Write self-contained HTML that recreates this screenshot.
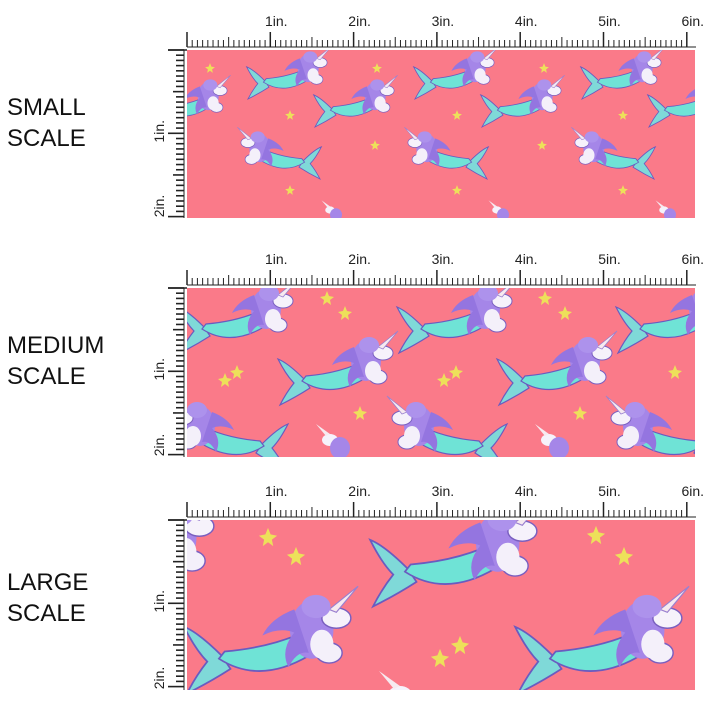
<!DOCTYPE html>
<html><head><meta charset="utf-8"><style>
body{margin:0;background:#fff;width:720px;height:720px;overflow:hidden;font-family:"Liberation Sans",sans-serif}
.lab{position:absolute;left:7px;font-size:24px;line-height:31px;color:#111}
</style></head><body>
<div class="lab" style="top:92px">SMALL<br>SCALE</div>
<div class="lab" style="top:330px">MEDIUM<br>SCALE</div>
<div class="lab" style="top:567px">LARGE<br>SCALE</div>
<svg id="s" width="720" height="720" style="position:absolute;left:0;top:0">
<defs>
<g id="c">
<path d="M24,44 Q8,28 -2,24 Q6,40 14,48 Q6,58 0,70 Q16,62 30,53 Z" fill="#7fd9d8" stroke="#6a5bc0" stroke-width="1.2"/>
<path d="M22,46 Q50,64 84,44 L88,24 Q62,38 26,41 Z" fill="#6fe3d6" stroke="#6a5bc0" stroke-width="1.2"/>
<ellipse cx="98" cy="42" rx="9" ry="7" fill="#f4f0fa" stroke="#7a5fc0" stroke-width="1"/>
<ellipse cx="86" cy="26" rx="15" ry="20" fill="#a586e8"/>
<path d="M74,12 Q58,18 52,30 Q64,24 74,28 Q64,40 70,52 Q76,40 84,42 Z" fill="#9475e0"/>
<ellipse cx="93" cy="36" rx="8" ry="10" fill="#f4f0fa"/>
<ellipse cx="103" cy="18" rx="10" ry="7" fill="#f6f2fb" stroke="#7a5fc0" stroke-width="1"/>
<path d="M98,12 L118,-4 L103,14 Z" fill="#f6eaf0" stroke="#9a80d0" stroke-width="0.8"/>
<ellipse cx="89" cy="10" rx="10" ry="8" fill="#ad92ec"/>
</g>
<g id="h">
<ellipse cx="0" cy="0" rx="8" ry="6" fill="#f6f2fb"/>
<path d="M-4,-4 L-14,-16 L0,-6Z" fill="#f6eaf0"/>
<ellipse cx="10" cy="8" rx="10" ry="11" fill="#a586e8"/>
</g>
<path id="st" d="M0,-7 L2,-2 L7,-1 L3,2 L4,7 L0,4 L-4,7 L-3,2 L-7,-1 L-2,-2Z" fill="#ede05a"/>
<clipPath id="k1"><rect x="187" y="50" width="508" height="168"/></clipPath>
<clipPath id="k2"><rect x="187" y="288" width="508" height="169"/></clipPath>
<clipPath id="k3"><rect x="187" y="520" width="508" height="170"/></clipPath>
</defs>
<g clip-path="url(#k1)"><rect x="187" y="50" width="508" height="168" fill="#fa7a89"/></g>
<g clip-path="url(#k2)"><rect x="187" y="288" width="508" height="169" fill="#fa7a89"/></g>
<g clip-path="url(#k3)"><rect x="187" y="520" width="508" height="170" fill="#fa7a89"/></g>
</svg>
<script>
const s=document.getElementById('s');const NS='http://www.w3.org/2000/svg';
function el(t,a,p){const e=document.createElementNS(NS,t);for(const k in a)e.setAttribute(k,a[k]);(p||s).appendChild(e);return e;}
const gs=s.querySelectorAll('g[clip-path]');
function cr(g,x,y,sc,m){el('use',{href:'#c',transform:`translate(${x},${y}) scale(${m?-sc:sc},${sc})`},g);}
function hd(g,x,y,sc,m){el('use',{href:'#h',transform:`translate(${x},${y}) scale(${m?-sc:sc},${sc})`},g);}
function sr(g,x,y,sc){el('use',{href:'#st',transform:`translate(${x},${y}) scale(${sc})`},g);}
let g=gs[0];
[81,248,415,582,749].forEach(x=>cr(g,x,50,0.7));
[-19,148,315,482,649].forEach(x=>cr(g,x,78,0.7));
[153,320,487,654,821].forEach(x=>cr(g,x,130,0.7,1));
[330,497,664].forEach(x=>hd(g,x,210,0.6));
[[210,68],[290,115],[377,68],[457,115],[544,68],[623,115],[290,190],[457,190],[623,190],[375,145],[542,145]].forEach(p=>sr(g,p[0],p[1],0.7));
g=gs[1];
[180,399,618].forEach(x=>cr(g,x,283,1));
[61,280,499].forEach(x=>cr(g,x,335,1));
[286,505,724].forEach(x=>cr(g,x,400,1,1));
[330,549].forEach(x=>hd(g,x,440,1));
[[327,298],[345,313],[545,298],[565,313],[237,372],[225,380],[456,372],[444,380],[675,372],[360,413],[580,413]].forEach(p=>sr(g,p[0],p[1],1));
g=gs[2];
cr(g,373,505,1.45);cr(g,518,592,1.45);cr(g,187,592,1.45);cr(g,50,500,1.45);
hd(g,400,695,1.5);
[[268,537],[296,556],[596,535],[624,556],[460,645],[440,658]].forEach(p=>sr(g,p[0],p[1],1.3));
const tops=[50,288,520],bots=[218,457,690],X0=187,IN=83.3;
tops.forEach((t,i)=>{
 const b=t-3;
 el('line',{x1:X0,y1:b,x2:696,y2:b,stroke:'#222','stroke-width':1});
 for(let k=0;k<=6*16;k++){const x=X0+k*IN/16;const h=k%16==0?15:(k%8==0?10:7);
  el('line',{x1:x,y1:b,x2:x,y2:b-h,stroke:'#222','stroke-width':k%16==0?1.5:1});}
 for(let n=1;n<=6;n++){const tx=el('text',{x:X0+n*IN+6,y:t-24,'text-anchor':'middle','font-size':14,fill:'#222','font-family':'Liberation Sans'});tx.textContent=n+'in.';}
 const vx=184;el('line',{x1:vx,y1:t,x2:vx,y2:bots[i],stroke:'#222','stroke-width':1});
 el('line',{x1:168,y1:t,x2:187,y2:t,stroke:'#222','stroke-width':1.5});
 for(let k=0;k<=32;k++){const y=t+k*IN/16;if(y>bots[i]+1)break;const w=k%16==0?16:(k%8==0?11:8);
  el('line',{x1:vx,y1:y,x2:vx-w,y2:y,stroke:'#222','stroke-width':1.6});}
 [1,2].forEach(n=>{const y=Math.min(t+n*IN-2,bots[i]-12);const tx=el('text',{x:0,y:0,'text-anchor':'middle','font-size':14,fill:'#222','font-family':'Liberation Sans',transform:`translate(164,${y}) rotate(-90)`});tx.textContent=n+'in.';});
});
</script>
</body></html>
